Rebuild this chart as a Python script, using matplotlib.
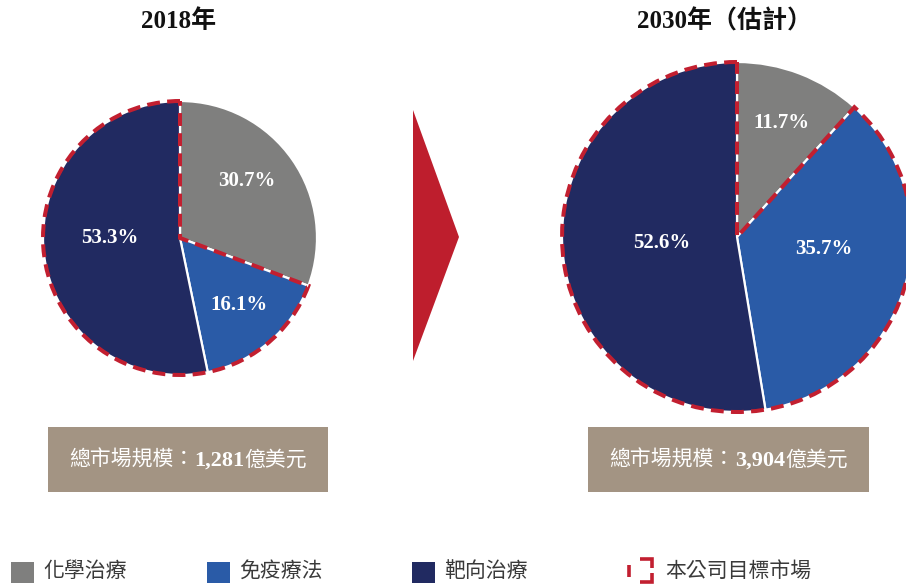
import matplotlib
matplotlib.use("Agg")
import matplotlib.pyplot as plt
from matplotlib.patches import Wedge, Rectangle, Polygon
import numpy as np

# market share by therapy type (%)
categories = ["化學治療", "免疫療法", "靶向治療"]
share_2018 = [30.7, 16.1, 53.3]
share_2030 = [11.7, 35.7, 52.6]
titles = ["2018年", "2030年（估計）"]
market_size = ["1,281", "3,904"]
target_label = "本公司目標市場"

colors = ["#7f7f7e", "#2a5ba7", "#212a61"]
red = "#c21f30"
tan = "#a39483"
serif = ["Liberation Serif", "Noto Sans CJK TC"]
sans = ["Noto Sans CJK TC", "DejaVu Sans"]

W, H = 906, 585
fig = plt.figure(figsize=(W / 100, H / 100), dpi=100)
ax = fig.add_axes([0, 0, 1, 1])


def py(y):
    # pixel rows measured from the top
    return H - y


pies = [
    dict(values=share_2018, center=(180, py(238)), radius=137,
         label_pos=[(0.64, 6.0), (0.65, 1.0), (0.51, -5.8)],
         title_x=179, box_x=48, box_w=280),
    dict(values=share_2030, center=(737, py(237)), radius=175,
         label_pos=[(0.70, 0.0), (0.50, 8.5), (0.43, 0.0)],
         title_x=725, box_x=588, box_w=281),
]

for p, title, size in zip(pies, titles, market_size):
    cx, cy = p["center"]
    r = p["radius"]
    wedges, _ = ax.pie(p["values"], colors=colors, startangle=90,
                       counterclock=False, center=(cx, cy), radius=r,
                       frame=True,
                       wedgeprops=dict(edgecolor="white", linewidth=1.6))

    # percentage labels
    for w, v, (rf, dth) in zip(wedges, p["values"], p["label_pos"]):
        mid = np.deg2rad((w.theta1 + w.theta2) / 2 + dth)
        ax.text(cx + rf * r * np.cos(mid), cy + rf * r * np.sin(mid),
                f"{v:.1f}%", color="white", fontsize=15,
                fontweight="bold", family=serif, ha="center", va="center")

    # dashed outline around the target market (everything except chemo)
    chemo = wedges[0]
    ax.add_patch(Wedge((cx, cy), r, chemo.theta2, chemo.theta1 + 360,
                       fill=False, edgecolor=red, linewidth=2.9,
                       linestyle=(0, (3.2, 1.8)), capstyle="butt",
                       zorder=5))

    ax.text(p["title_x"], py(21), title, fontsize=18, fontweight="bold",
            family=serif, ha="center", va="center", color="#111111")

    # total market size box
    bx, bw = p["box_x"], p["box_w"]
    ax.add_patch(Rectangle((bx, py(492)), bw, 65, facecolor=tan,
                           edgecolor="none"))
    parts = [("總市場規模：", sans, "normal"),
             (size, serif, "bold"),
             ("億美元", sans, "normal")]
    texts = [ax.text(0, py(466), s, color="white", fontsize=15,
                     family=fam, fontweight=wt, ha="left", va="baseline")
             for s, fam, wt in parts]
    texts[1].set_fontsize(16)
    renderer = fig.canvas.get_renderer()
    widths = [t.get_window_extent(renderer).width for t in texts]
    x = bx + bw / 2 - sum(widths) / 2
    for t, wd in zip(texts, widths):
        t.set_x(x)
        x += wd

# arrow between the two years
ax.add_patch(Polygon([(413, py(110)), (413, py(361)), (459, py(237))],
                     closed=True, facecolor="#be1e2d", edgecolor="none"))

# legend
legend_x = [11, 207, 412]
for xl, c, name in zip(legend_x, colors, categories):
    ax.add_patch(Rectangle((xl, py(583)), 23, 21, facecolor=c,
                           edgecolor="none"))
    ax.text(xl + 32, py(571), name, fontsize=15, family=sans,
            color="#3a3a3a", ha="left", va="center")

bk = dict(color=red, linewidth=2.6, solid_capstyle="butt",
          solid_joinstyle="miter")
ax.plot([628.5, 628.5], [py(565), py(577)], **bk)
ax.plot([640, 651.5, 651.5], [py(558.5), py(558.5), py(568)], **bk)
ax.plot([651.5, 651.5, 640], [py(573), py(581.5), py(581.5)], **bk)
ax.text(665, py(571), target_label, fontsize=15, family=sans,
        color="#3a3a3a", ha="left", va="center")

ax.set_xlim(0, W)
ax.set_ylim(0, H)
ax.set_aspect("equal")
ax.axis("off")

fig.savefig("out.png", dpi=100, facecolor="white")
